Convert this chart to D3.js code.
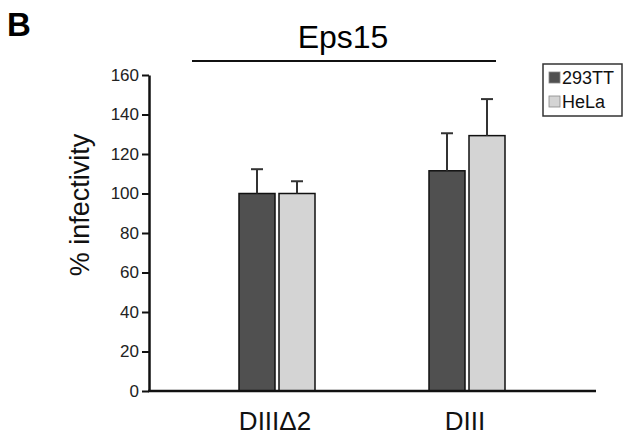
<!DOCTYPE html>
<html lang="en">
<head>
    <meta charset="UTF-8">
    <title>Eps15 infectivity</title>
    <script src="https://d3js.org/d3.v7.min.js"></script>
    <style>
        body {
            margin: 0;
            padding: 0;
            background-color: #fff;
            font-family: 'Liberation Sans', Arial, sans-serif;
        }
        svg { display: block; }
    </style>
</head>
<body>
    <script>
        // values
        const categories = ["DIII\u03942", "DIII"];
        const series = ["293TT", "HeLa"];
        const seriesColors = ["#505050", "#d4d4d4"];
        const means = [[100, 100], [111.5, 129.3]];   // [category][series]
        const errors = [[12.3, 6.2], [19, 18.5]];     // upper error only
        const yTicks = [0, 20, 40, 60, 80, 100, 120, 140, 160];

        const width = 627, height = 435;

        const svg = d3.select("body").append("svg")
            .attr("width", width)
            .attr("height", height);

        const y = d3.scaleLinear().domain([0, 160]).range([391, 75]);

        const x0 = d3.scaleBand()
            .domain(categories)
            .range([182, 562])
            .paddingInner(0.6)
            .paddingOuter(0.3);

        const x1 = d3.scaleBand()
            .domain(series)
            .range([0, x0.bandwidth()])
            .paddingInner(0.1);

        // panel letter
        svg.append("text")
            .attr("x", 7)
            .attr("y", 36)
            .style("font-size", "33px")
            .style("font-weight", "bold")
            .text("B");

        // title with bar underneath
        svg.append("text")
            .attr("x", 343)
            .attr("y", 48)
            .attr("text-anchor", "middle")
            .style("font-size", "32px")
            .text("Eps15");

        svg.append("line")
            .attr("x1", 192).attr("x2", 496)
            .attr("y1", 61).attr("y2", 61)
            .attr("stroke", "#111")
            .attr("stroke-width", 2);

        // bars
        const groups = svg.selectAll(".group")
            .data(categories)
            .enter().append("g")
            .attr("class", "group")
            .attr("transform", d => `translate(${x0(d)},0)`);

        groups.selectAll("rect")
            .data((c, ci) => series.map((s, si) => ({ s, si, v: means[ci][si], e: errors[ci][si] })))
            .enter().append("rect")
            .attr("x", d => x1(d.s))
            .attr("y", d => y(d.v))
            .attr("width", x1.bandwidth())
            .attr("height", d => y(0) - y(d.v))
            .attr("fill", d => seriesColors[d.si])
            .attr("stroke", "#111")
            .attr("stroke-width", 1.5);

        // upper error bars
        const err = groups.selectAll(".err")
            .data((c, ci) => series.map((s, si) => ({ s, v: means[ci][si], e: errors[ci][si] })))
            .enter().append("g")
            .attr("class", "err")
            .attr("stroke", "#333")
            .attr("stroke-width", 2);

        err.append("line")
            .attr("x1", d => x1(d.s) + x1.bandwidth() / 2)
            .attr("x2", d => x1(d.s) + x1.bandwidth() / 2)
            .attr("y1", d => y(d.v))
            .attr("y2", d => y(d.v + d.e));

        err.append("line")
            .attr("x1", d => x1(d.s) + x1.bandwidth() / 2 - 6)
            .attr("x2", d => x1(d.s) + x1.bandwidth() / 2 + 6)
            .attr("y1", d => y(d.v + d.e))
            .attr("y2", d => y(d.v + d.e));

        // y axis
        const yAxis = svg.append("g")
            .attr("transform", "translate(149,0)")
            .call(d3.axisLeft(y).tickValues(yTicks).tickSize(7).tickSizeOuter(0).tickPadding(3));
        yAxis.select(".domain").attr("stroke", "#111").attr("stroke-width", 2.5);
        yAxis.selectAll(".tick line").attr("stroke", "#111").attr("stroke-width", 2);
        yAxis.selectAll(".tick text")
            .style("font-family", "'Liberation Sans', Arial, sans-serif")
            .style("font-size", "17px")
            .attr("fill", "#222");

        // x axis baseline
        svg.append("line")
            .attr("x1", 148).attr("x2", 596)
            .attr("y1", y(0)).attr("y2", y(0))
            .attr("stroke", "#111")
            .attr("stroke-width", 2.5);

        // category labels
        svg.selectAll(".cat-label")
            .data(categories)
            .enter().append("text")
            .attr("class", "cat-label")
            .attr("x", d => x0(d) + x0.bandwidth() / 2 - 2)
            .attr("y", 430)
            .attr("text-anchor", "middle")
            .style("font-size", "26px")
            .attr("fill", "#111")
            .text(d => d);

        // y axis title
        svg.append("text")
            .attr("transform", "translate(89,205) rotate(-90)")
            .attr("text-anchor", "middle")
            .style("font-size", "27px")
            .attr("fill", "#111")
            .text("% infectivity");

        // legend
        const legend = svg.append("g").attr("transform", "translate(543,64)");
        legend.append("rect")
            .attr("width", 79)
            .attr("height", 52)
            .attr("fill", "#fff")
            .attr("stroke", "#333")
            .attr("stroke-width", 1.5);

        const rows = legend.selectAll(".row")
            .data(series)
            .enter().append("g")
            .attr("class", "row")
            .attr("transform", (d, i) => `translate(6,${14 + i * 24})`);

        rows.append("rect")
            .attr("y", -6)
            .attr("width", 11)
            .attr("height", 11)
            .attr("fill", (d, i) => seriesColors[i])
            .attr("stroke", "#888")
            .attr("stroke-width", 0.8);

        rows.append("text")
            .attr("x", 13)
            .attr("y", 6)
            .style("font-size", "18px")
            .attr("fill", "#111")
            .text(d => d);
    </script>
</body>
</html>
